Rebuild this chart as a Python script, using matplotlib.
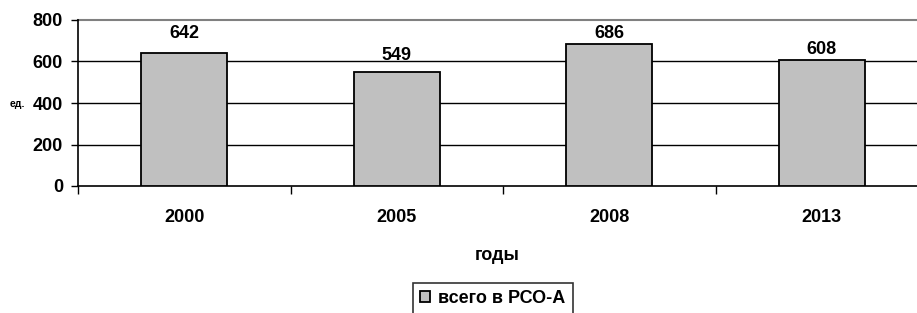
import matplotlib.pyplot as plt
import numpy as np

years = ["2000", "2005", "2008", "2013"]
values = [642, 549, 686, 608]
series_name = "всего в РСО-А"

# vertical gap (px) between bar top and its value label, as in the source
label_gap_px = [15, 12, 6, 6]

plt.rcParams['font.family'] = ['Liberation Sans', 'DejaVu Sans']
plt.rcParams['font.weight'] = 'bold'

W, H = 917, 313
fig = plt.figure(figsize=(W / 100, H / 100), dpi=100)
# plot area: x 78..928 px (runs past right edge), y 20..186 px
ax = fig.add_axes([78 / W, 1 - 186 / H, 850 / W, 166 / H])

x = np.arange(len(years))
ax.bar(x, values, width=0.405, color='#C0C0C0', edgecolor='black',
       linewidth=1.3, label=series_name, zorder=3)

for xi, v, g in zip(x, values, label_gap_px):
    ax.annotate(str(v), (xi, v), xytext=(0, g * 0.72), textcoords='offset points',
                ha='center', va='baseline', fontsize=13, fontweight='bold')

ax.set_xlim(-0.5, len(years) - 0.5)
ax.set_ylim(0, 800)
ax.set_yticks([0, 200, 400, 600, 800])
ax.tick_params(axis='y', labelsize=13, length=5, width=1, direction='out', pad=5.8)
for yv in [200, 400, 600]:
    ax.axhline(yv, color='black', linewidth=1.0, zorder=1)
ax.axhline(800, color='#808080', linewidth=1.5, zorder=1, clip_on=False)

# category ticks between bars, labels centred under bars
ax.set_xticks(np.arange(-0.5, len(years) - 0.5 + 0.01, 1.0))
ax.set_xticklabels([])
ax.set_xticks(x, minor=True)
ax.set_xticklabels(years, minor=True, fontsize=13, fontweight='bold')
ax.tick_params(axis='x', which='minor', length=0, pad=16.5)
ax.tick_params(axis='x', which='major', length=5.5, width=1, direction='out')

for s in ['top', 'right']:
    ax.spines[s].set_visible(False)
ax.spines['left'].set_linewidth(1.2)
ax.spines['bottom'].set_linewidth(1.2)

ax.set_xlabel('годы', fontsize=13, fontweight='bold')
ax.xaxis.label.set_va('baseline')
ax.xaxis.set_label_coords(0.5 - 6 / 850, -(260 - 186) / 166)

fig.text(10 / W, 1 - 104 / H, 'ед.', fontsize=7.5, fontweight='bold', va='center')

leg = fig.legend(loc='upper left', bbox_to_anchor=(413 / W, 1 - 283 / H),
                 fancybox=False, frameon=True, prop={'size': 13, 'weight': 'bold'},
                 handlelength=0.55, handleheight=0.55, handletextpad=0.45,
                 borderpad=0.4, borderaxespad=0)
leg.get_frame().set_edgecolor('black')
leg.get_frame().set_linewidth(1.2)

fig.savefig('out.png', dpi=100)
